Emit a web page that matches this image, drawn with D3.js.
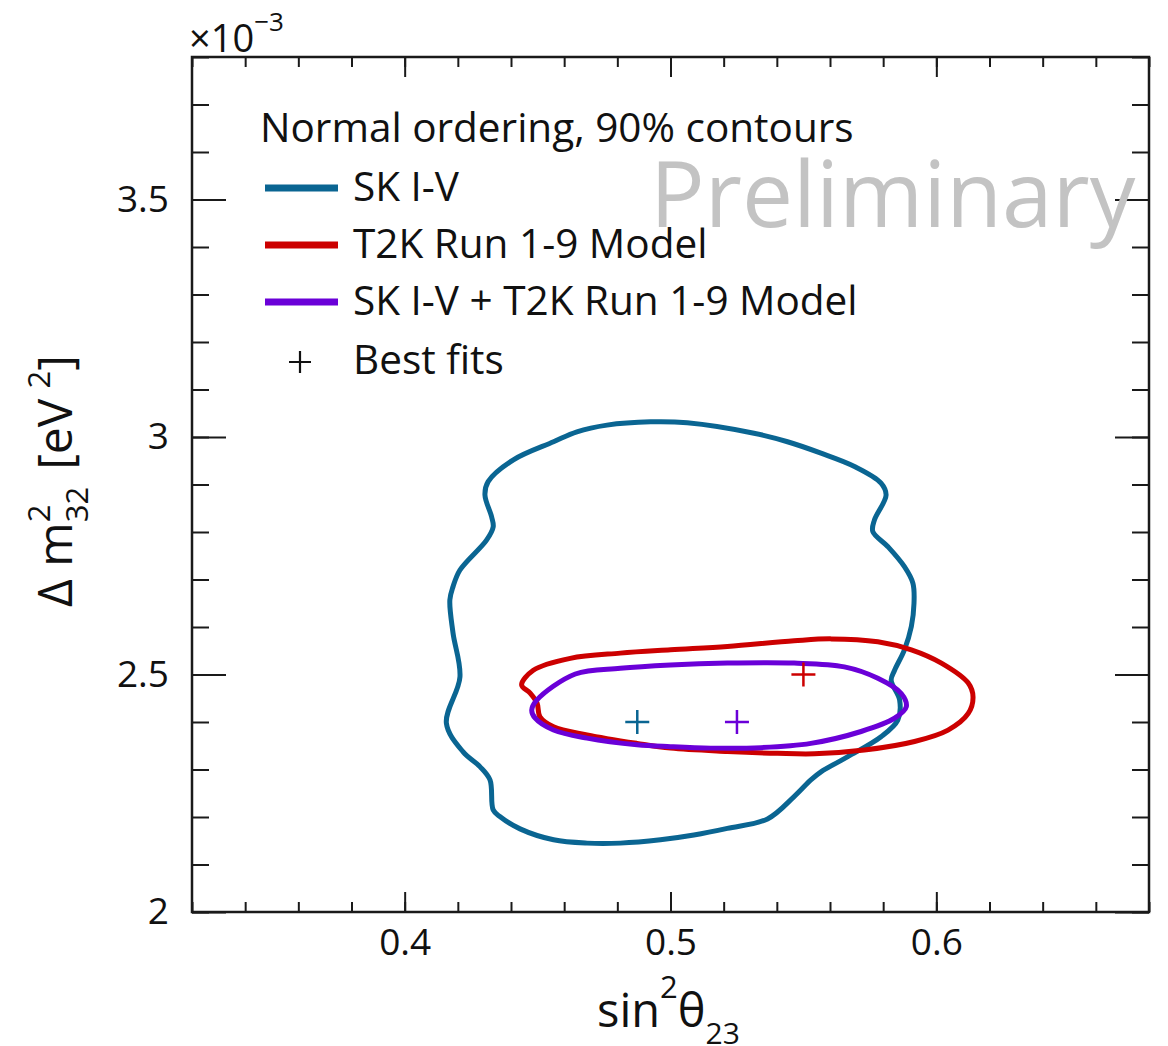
<!DOCTYPE html>
<html>
<head>
<meta charset="utf-8">
<script src="https://cdn.jsdelivr.net/npm/d3@7"></script>
<style>
  body { margin: 0; background: #fff; }
  text { font-family: "Open Sans", "Noto Sans", sans-serif; fill: #111; }
</style>
</head>
<body>
<svg id="plotarea" width="1168" height="1046"></svg>
<script>
// axis ranges (delta m^2 in units of 1e-3 eV^2)
var xDomain = [0.32, 0.68];
var yDomain = [2.0, 3.8];
var xMajor = [0.4, 0.5, 0.6];
var yMajor = [2, 2.5, 3, 3.5];
var xMinor = d3.range(0.32, 0.6801, 0.02);
var yMinor = d3.range(2.0, 3.801, 0.1);

// 90% contours: [sin^2 theta23, dm2_32 (1e-3)]
var skContour = [
  [0.4925, 3.032], [0.5063, 3.030], [0.5314, 3.008], [0.5440, 2.990], [0.5566, 2.966],
  [0.5692, 2.938], [0.5792, 2.903], [0.5811, 2.878], [0.5767, 2.825], [0.5761, 2.801],
  [0.5818, 2.769], [0.5880, 2.727], [0.5912, 2.692], [0.5916, 2.650], [0.5906, 2.601],
  [0.5880, 2.552], [0.5843, 2.509], [0.5830, 2.488], [0.5862, 2.446], [0.5855, 2.404],
  [0.5792, 2.369], [0.5667, 2.327], [0.5566, 2.295], [0.5528, 2.278], [0.5465, 2.243],
  [0.5365, 2.196], [0.5214, 2.176], [0.5088, 2.162], [0.4962, 2.152], [0.4811, 2.145],
  [0.4686, 2.145], [0.4560, 2.152], [0.4434, 2.175], [0.4358, 2.201], [0.4333, 2.215],
  [0.4321, 2.278], [0.4283, 2.306], [0.4220, 2.337], [0.4157, 2.397], [0.4208, 2.495],
  [0.4182, 2.587], [0.4170, 2.657], [0.4182, 2.685], [0.4208, 2.720], [0.4308, 2.783],
  [0.4333, 2.811], [0.4327, 2.832], [0.4302, 2.878], [0.4314, 2.906], [0.4409, 2.952],
  [0.4560, 2.990], [0.4648, 3.011], [0.4761, 3.025]
];
var t2kContour = [
  [0.4440, 2.478], [0.4484, 2.509], [0.4623, 2.534], [0.4811, 2.545], [0.5000, 2.552],
  [0.5214, 2.559], [0.5465, 2.571], [0.5604, 2.575], [0.5780, 2.569], [0.5906, 2.552],
  [0.6019, 2.524], [0.6120, 2.482], [0.6138, 2.453], [0.6120, 2.418], [0.6044, 2.383],
  [0.5918, 2.359], [0.5729, 2.341], [0.5541, 2.333], [0.5403, 2.334], [0.5214, 2.338],
  [0.5000, 2.345], [0.4874, 2.355], [0.4686, 2.373], [0.4560, 2.390], [0.4509, 2.411],
  [0.4498, 2.440], [0.4472, 2.461]
];
var combContour = [
  [0.4642, 2.501], [0.4811, 2.513], [0.5000, 2.520], [0.5214, 2.524], [0.5465, 2.524],
  [0.5654, 2.516], [0.5780, 2.492], [0.5868, 2.460], [0.5887, 2.432], [0.5843, 2.408],
  [0.5717, 2.380], [0.5528, 2.355], [0.5340, 2.346], [0.5151, 2.345], [0.5000, 2.348],
  [0.4874, 2.352], [0.4686, 2.366], [0.4560, 2.383], [0.4491, 2.408], [0.4478, 2.425],
  [0.4497, 2.446]
];
var bestFitX = [0.4875, 0.55, 0.525];
var bestFitY = [2.40, 2.50, 2.40];

var seriesNames = ["SK I-V", "T2K Run 1-9 Model", "SK I-V + T2K Run 1-9 Model"];
var seriesColors = ["#0a6592", "#cc0000", "#6a00d8"];

var svg = d3.select("#plotarea");
var frame = {left: 192, right: 1149, top: 57, bottom: 912};

var x = d3.scaleLinear().domain(xDomain).range([frame.left, frame.right]);
var y = d3.scaleLinear().domain(yDomain).range([frame.bottom, frame.top]);

// contours
var line = d3.line()
    .x(function(d) { return x(d[0]); })
    .y(function(d) { return y(d[1]); })
    .curve(d3.curveCatmullRomClosed.alpha(0.5));

var contours = [
  { data: skContour, color: seriesColors[0] },
  { data: t2kContour, color: seriesColors[1] },
  { data: combContour, color: seriesColors[2] }
];
svg.selectAll(".contour")
    .data(contours)
    .enter().append("path")
    .attr("class", "contour")
    .attr("d", function(d) { return line(d.data); })
    .attr("fill", "none")
    .attr("stroke", function(d) { return d.color; })
    .attr("stroke-width", 5)
    .attr("stroke-linejoin", "round");

// best fit crosses
function cross(g, cx, cy, r, color, w) {
  g.append("path")
    .attr("d", "M" + (cx - r) + "," + cy + "H" + (cx + r) + "M" + cx + "," + (cy - r) + "V" + (cy + r))
    .attr("stroke", color)
    .attr("stroke-width", w)
    .attr("fill", "none");
}
bestFitX.forEach(function(bx, i) {
  cross(svg, x(bx), y(bestFitY[i]), 12, seriesColors[i], 2.5);
});

// axes, ticks pointing inwards
var axes = svg.append("g").attr("class", "axes");
function addAxis(gen, tx, ty) {
  var g = axes.append("g").attr("transform", "translate(" + tx + "," + ty + ")").call(gen);
  g.select(".domain").remove();
  g.selectAll(".tick line").attr("stroke", "#1a1a1a").attr("stroke-width", 2);
  g.selectAll("text").style("font-size", "37px").attr("fill", "#111");
  return g;
}
addAxis(d3.axisBottom(x).tickValues(xMinor).tickSize(-10).tickFormat(""), 0, frame.bottom);
addAxis(d3.axisBottom(x).tickValues(xMajor).tickSize(-20).tickPadding(17).tickFormat(d3.format(".1f")), 0, frame.bottom);
addAxis(d3.axisTop(x).tickValues(xMinor).tickSize(-10).tickFormat(""), 0, frame.top);
addAxis(d3.axisTop(x).tickValues(xMajor).tickSize(-20).tickFormat(""), 0, frame.top);
addAxis(d3.axisLeft(y).tickValues(yMinor).tickSize(-17).tickFormat(""), frame.left, 0);
addAxis(d3.axisLeft(y).tickValues(yMajor).tickSize(-34).tickPadding(23).tickFormat(function(d) { return d3.format("")(d); }), frame.left, 0);
addAxis(d3.axisRight(y).tickValues(yMinor).tickSize(-17).tickFormat(""), frame.right, 0);
addAxis(d3.axisRight(y).tickValues(yMajor).tickSize(-34).tickFormat(""), frame.right, 0);

axes.append("rect")
    .attr("x", frame.left).attr("y", frame.top)
    .attr("width", frame.right - frame.left).attr("height", frame.bottom - frame.top)
    .attr("fill", "none").attr("stroke", "#1a1a1a").attr("stroke-width", 2.5);

// exponent label
var expo = svg.append("text").attr("x", 189).attr("y", 52).style("font-size", "38px");
expo.append("tspan").text("\u00d710");
expo.append("tspan").attr("dy", -21).style("font-size", "26px").text("\u22123");

// x title
var xt = svg.append("text").attr("x", 597).attr("y", 1027).style("font-size", "47px");
xt.append("tspan").text("sin");
xt.append("tspan").attr("dy", -29).style("font-size", "31px").text("2");
xt.append("tspan").attr("dy", 29).text("\u03b8");
xt.append("tspan").attr("dy", 17).style("font-size", "30px").text("23");

// y title, rotated
var yt = svg.append("g").attr("transform", "translate(72,607) rotate(-90)");
var pos = 0;
function piece(str, size, shift) {
  var t = yt.append("text").attr("x", pos).attr("y", shift).style("font-size", size + "px").text(str);
  return t.node().getComputedTextLength();
}
pos += piece("\u0394 m", 48, 0);
var w1 = piece("2", 31, -22);
var w2 = piece("32", 31, 16);
pos += Math.max(w1, w2) + 17;
pos += piece("[eV", 48, 0) + 10;
pos += piece("2", 31, -22);
piece("]", 48, 0);

// legend
var legend = svg.append("g");
legend.append("text").attr("x", 260).attr("y", 142).style("font-size", "40.5px")
    .text("Normal ordering, 90% contours");
seriesNames.forEach(function(name, i) {
  var ly = 188 + i * 57;
  legend.append("line")
      .attr("x1", 265).attr("x2", 338).attr("y1", ly).attr("y2", ly)
      .attr("stroke", seriesColors[i]).attr("stroke-width", 7);
  legend.append("text").attr("x", 353).attr("y", ly + 13).style("font-size", "40.5px").text(name);
});
cross(legend, 300, 362, 11, "#111", 2.2);
legend.append("text").attr("x", 353).attr("y", 374).style("font-size", "40.5px").text("Best fits");

// watermark
svg.append("text").attr("x", 650).attr("y", 227)
    .style("font-size", "91px").style("fill", "#c3c3c3")
    .text("Preliminary");
</script>
</body>
</html>
